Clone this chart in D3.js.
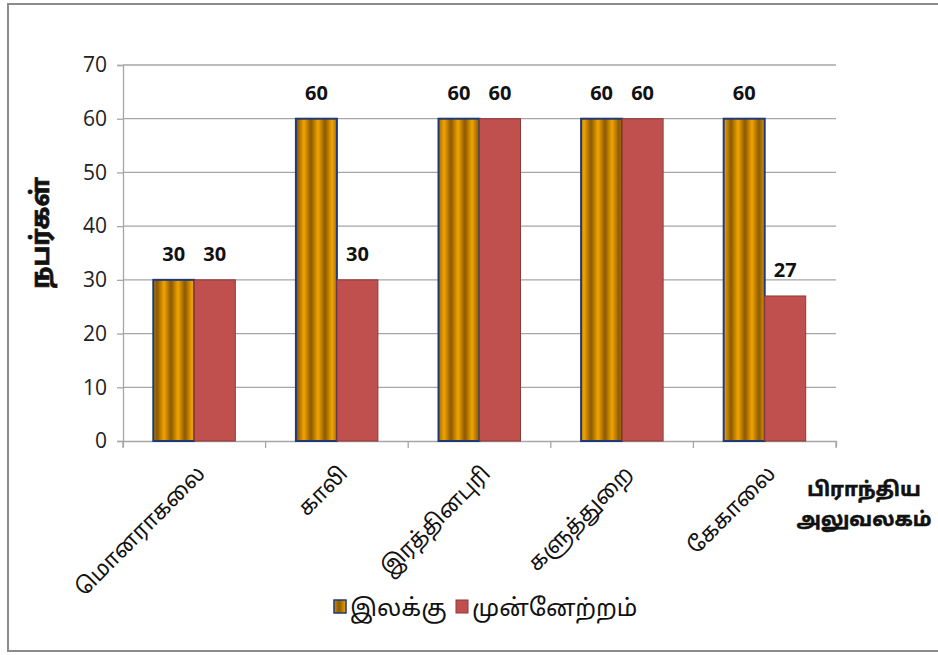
<!DOCTYPE html>
<html><head><meta charset="utf-8">
<script src="https://cdn.jsdelivr.net/npm/d3@7"></script>
<style>body{margin:0;background:#fff}svg{display:block}</style>
</head><body>
<script>
const categories = ["மொனராகலை","காலி","இரத்தினபுரி","களுத்துறை","கேகாலை"];
const seriesNames = ["இலக்கு","முன்னேற்றம்"];
const target = [30,60,60,60,60];
const progress = [30,30,60,60,27];
const yTicks = [0,10,20,30,40,50,60,70];
const yTitle = "நபர்கள்";
const xTitle = ["பிராந்திய","அலுவலகம்"];

const W=938,H=655;
const svg=d3.select("body").append("svg").attr("width",W).attr("height",H);
const defs=svg.append("defs");
const grad=defs.append("linearGradient").attr("id","sg").attr("x1","0").attr("x2","1").attr("y1","0").attr("y2","0");
grad.append("stop").attr("offset","0").attr("stop-color","#f2a400");
grad.append("stop").attr("offset","0.5").attr("stop-color","#8a5a00");
grad.append("stop").attr("offset","1").attr("stop-color","#f2a400");
const pat=defs.append("pattern").attr("id","stripe").attr("patternUnits","userSpaceOnUse").attr("width",14).attr("height",10).attr("x",150);
pat.append("rect").attr("width",14).attr("height",10).attr("fill","url(#sg)");

svg.append("rect").attr("x",8).attr("y",4).attr("width",W+10).attr("height",647).attr("fill","#fff").attr("stroke","#8c8c8c").attr("stroke-width",2);

const pL=123,pR=836,pT=65,pB=441;
const x=d3.scaleBand().domain(categories).range([pL,pR]);
const y=d3.scaleLinear().domain([0,70]).range([pB,pT]);
const bw=41;
const tamil="'Noto Sans Tamil','Latha',sans-serif";

// grid
svg.append("g").selectAll("line").data(yTicks.slice(1)).join("line")
 .attr("x1",pL).attr("x2",pR).attr("y1",d=>y(d)).attr("y2",d=>y(d)).attr("stroke","#a6a6a6").attr("stroke-width",1.3);

// axes
const ya=svg.append("g").attr("transform",`translate(${pL},0)`).call(d3.axisLeft(y).tickValues(yTicks).tickSize(6).tickPadding(10));
ya.select(".domain").attr("stroke","#a6a6a6").attr("stroke-width",1.3);
ya.selectAll(".tick line").attr("stroke","#a6a6a6").attr("stroke-width",1.3);
ya.selectAll("text").attr("font-family","'Open Sans',sans-serif").attr("font-size",21).attr("fill","#222");

const xa=svg.append("g").attr("transform",`translate(0,${pB})`).call(d3.axisBottom(x).tickSize(6).tickFormat(""));
xa.select(".domain").attr("stroke","#a6a6a6").attr("stroke-width",1.3);
xa.selectAll(".tick").remove();
const edges=categories.map(c=>x(c)).concat([pR]);
xa.selectAll("line.e").data(edges).join("line").attr("class","e").attr("x1",d=>d).attr("x2",d=>d).attr("y1",0).attr("y2",7).attr("stroke","#a6a6a6").attr("stroke-width",1.3);

// bars
const cx=c=>x(c)+x.bandwidth()/2;
svg.append("g").selectAll("rect").data(categories).join("rect")
 .attr("x",c=>cx(c)-bw).attr("y",(c,i)=>y(target[i])).attr("width",bw).attr("height",(c,i)=>pB-y(target[i]))
 .attr("fill","url(#stripe)").attr("stroke","#1f3a78").attr("stroke-width",2);
svg.append("g").selectAll("rect").data(categories).join("rect")
 .attr("x",c=>cx(c)).attr("y",(c,i)=>y(progress[i])).attr("width",bw).attr("height",(c,i)=>pB-y(progress[i]))
 .attr("fill","#c0504d").attr("stroke","#8c3a38").attr("stroke-width",1);

// labels
const lab=svg.append("g").attr("font-family","'Open Sans',sans-serif").attr("font-weight","bold").attr("font-size",20).attr("text-anchor","middle").attr("fill","#111");
lab.selectAll("text.t").data(categories).join("text").attr("class","t").attr("x",c=>cx(c)-bw/2).attr("y",(c,i)=>y(target[i])-19).text((c,i)=>target[i]);
lab.selectAll("text.p").data(categories).join("text").attr("class","p").attr("x",c=>cx(c)+bw/2).attr("y",(c,i)=>y(progress[i])-19).text((c,i)=>progress[i]);

// x labels
svg.append("g").selectAll("text").data(categories).join("text")
 .attr("transform",c=>`translate(${cx(c)+12},${pB+34}) rotate(-45)`)
 .attr("text-anchor","end").attr("font-size",22).attr("font-family",tamil).attr("fill","#111").text(c=>c);

// axis titles
svg.append("text").attr("transform",`translate(49,233) rotate(-90)`).attr("text-anchor","middle").attr("font-weight","bold").attr("font-size",25).attr("font-family",tamil).attr("fill","#111").attr("stroke","#111").attr("stroke-width",0.7).text(yTitle);
svg.append("g").selectAll("text").data(xTitle).join("text").attr("x",864).attr("y",(d,i)=>496+i*30).attr("text-anchor","middle").attr("font-weight","bold").attr("font-size",20).attr("font-family",tamil).attr("fill","#111").attr("stroke","#111").attr("stroke-width",0.5).text(d=>d);

// legend
const lg=svg.append("g");
lg.append("rect").attr("x",334).attr("y",600).attr("width",12).attr("height",13).attr("fill","url(#stripe)").attr("stroke","#1f3a78").attr("stroke-width",1.5);
lg.append("text").attr("x",350).attr("y",616).attr("font-size",24).attr("font-family",tamil).attr("fill","#111").text(seriesNames[0]);
lg.append("rect").attr("x",456).attr("y",600).attr("width",12).attr("height",13).attr("fill","#c0504d").attr("stroke","#8c3a38");
lg.append("text").attr("x",472).attr("y",616).attr("font-size",24).attr("font-family",tamil).attr("fill","#111").text(seriesNames[1]);
</script>
</body></html>
